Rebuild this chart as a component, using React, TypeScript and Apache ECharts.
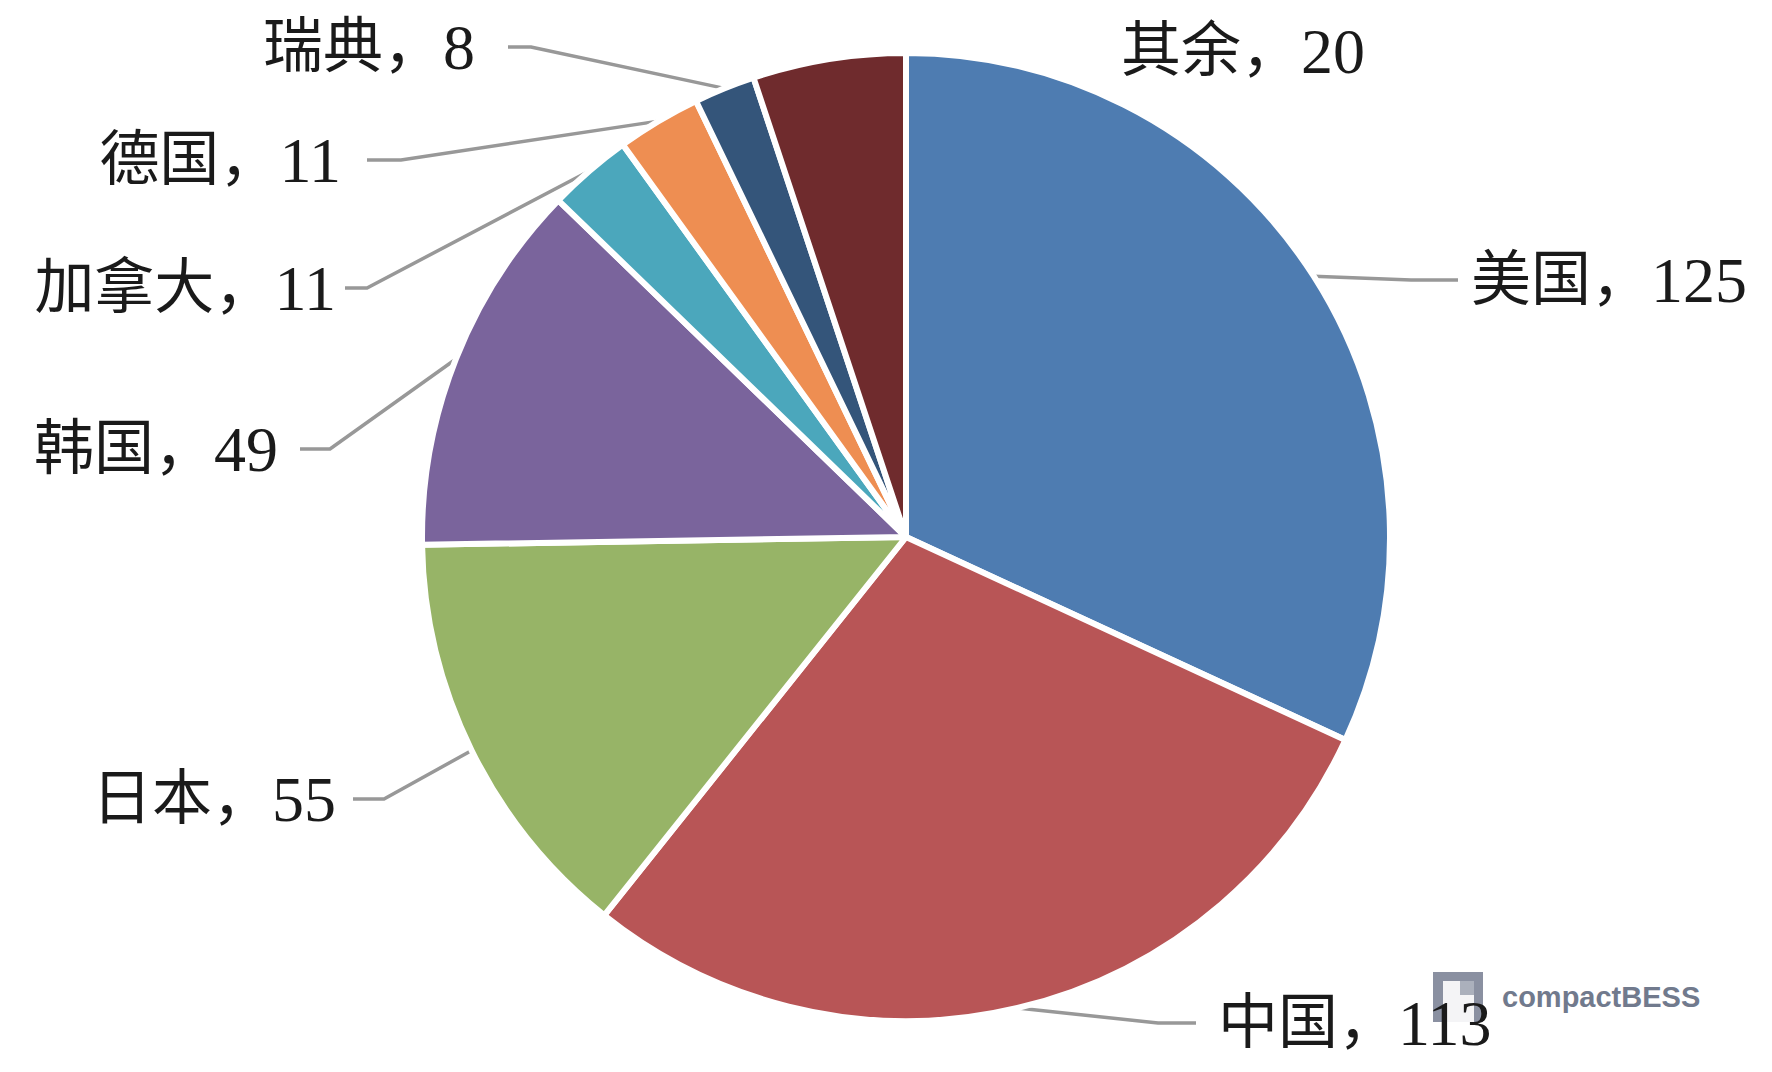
import React, { useEffect, useRef } from "react";
import * as echarts from "echarts";

// ---- data ----
const countries = ["美国", "中国", "日本", "韩国", "加拿大", "德国", "瑞典", "其余"];
const counts = [125, 113, 55, 49, 11, 11, 8, 20];
const sliceColors = ["#4E7CB1", "#B85556", "#97B467", "#7A649C", "#4BA7BC", "#EE8E52", "#34557A", "#6F2B2D"];

// ---- label placement (text anchors, px) ----
type Place = { x: number; y: number; align: "left" | "right"; gap: number; bend: number; line: boolean };
const labelPlacement: Record<string, Place> = {
  美国: { x: 1471, y: 280, align: "left", gap: 13, bend: 60, line: true },
  中国: { x: 1218, y: 1023, align: "left", gap: 22, bend: 60, line: true },
  日本: { x: 336, y: 799, align: "right", gap: 17, bend: 48, line: true },
  韩国: { x: 278, y: 449, align: "right", gap: 22, bend: 52, line: true },
  加拿大: { x: 336, y: 288, align: "right", gap: 9, bend: 31, line: true },
  德国: { x: 341, y: 160, align: "right", gap: 26, bend: 60, line: true },
  瑞典: { x: 475, y: 47, align: "right", gap: 33, bend: 56, line: true },
  其余: { x: 1121, y: 51, align: "left", gap: 0, bend: 0, line: false },
};

const labelFont = "'Liberation Serif', 'Times New Roman', 'Noto Sans CJK SC', serif";

export default function App() {
  const ref = useRef<HTMLDivElement>(null);

  useEffect(() => {
    if (!ref.current) return;
    const chart = echarts.init(ref.current, undefined, { renderer: "svg" });

    const seriesData = countries.map((name, i) => ({
      name,
      value: counts[i],
      itemStyle: { color: sliceColors[i] },
      labelLine: { show: labelPlacement[name].line },
    }));

    const option: any = {
      animation: false,
      backgroundColor: "#ffffff",
      series: [
        {
          type: "pie",
          center: [906, 537],
          radius: [0, 484],
          startAngle: 90,
          clockwise: true,
          avoidLabelOverlap: false,
          data: seriesData,
          itemStyle: { borderColor: "#ffffff", borderWidth: 6 },
          label: {
            show: true,
            position: "outside",
            formatter: "{b}，{n|{c}}",
            fontFamily: labelFont,
            fontSize: 60,
            color: "#1a1a1a",
            rich: {
              n: { fontFamily: labelFont, fontSize: 64, color: "#1a1a1a" },
            },
          },
          labelLine: {
            show: true,
            length: 10,
            length2: 10,
            lineStyle: { color: "#989898", width: 3.5 },
          },
          labelLayout: (params: any) => {
            const name = countries[params.dataIndex];
            const p = labelPlacement[name];
            const res: any = { x: p.x, y: p.y, align: p.align, verticalAlign: "middle" };
            if (p.line && params.labelLinePoints && params.labelLinePoints.length) {
              const p0 = params.labelLinePoints[0];
              const dir = p.align === "right" ? 1 : -1;
              res.labelLinePoints = [
                [p0[0], p0[1]],
                [p.x + dir * p.bend, p.y],
                [p.x + dir * p.gap, p.y],
              ];
            }
            return res;
          },
          emphasis: { disabled: true },
        },
      ],
      graphic: [
        {
          type: "group",
          z: 100,
          silent: true,
          children: [
            { type: "rect", shape: { x: 1433, y: 972, width: 50, height: 50 }, style: { fill: "#7d8497", opacity: 0.9 } },
            { type: "rect", shape: { x: 1443, y: 981, width: 31, height: 41 }, style: { fill: "#ffffff", opacity: 0.9 } },
            { type: "rect", shape: { x: 1460, y: 981, width: 14, height: 14 }, style: { fill: "#a3a8b6", opacity: 0.9 } },
            {
              type: "text",
              x: 1502,
              y: 997,
              style: {
                text: "compactBESS",
                font: "bold 29px 'Liberation Sans', Arial, sans-serif",
                fill: "#717a8d",
                verticalAlign: "middle",
                align: "left",
              },
            },
          ],
        },
      ],
    };

    chart.setOption(option);
    return () => chart.dispose();
  }, []);

  return (
    <div
      ref={ref}
      style={{ position: "absolute", left: 0, top: 0, width: 1772, height: 1072, background: "#fff" }}
    />
  );
}
